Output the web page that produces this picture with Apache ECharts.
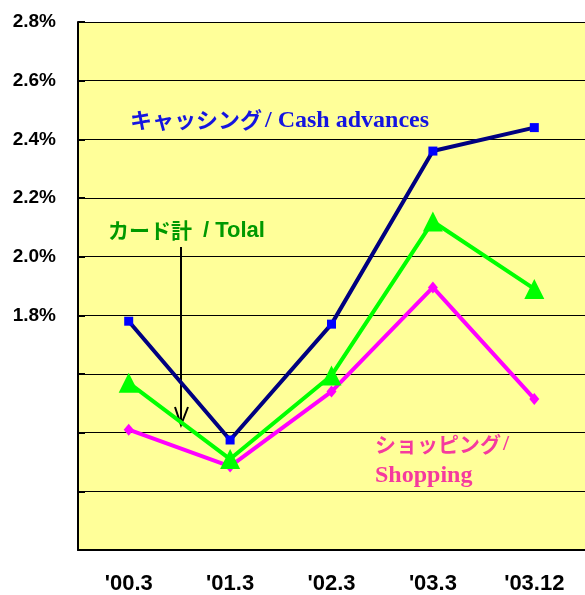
<!DOCTYPE html>
<html>
<head>
<meta charset="utf-8">
<script src="https://cdn.jsdelivr.net/npm/echarts@6/dist/echarts.min.js"></script>
<style>html,body{margin:0;padding:0;background:#fff;}#c{width:585px;height:595px;}</style>
</head>
<body>
<div id="c"></div>
<script>
const categories = ["'00.3", "'01.3", "'02.3", "'03.3", "'03.12"];
const cashAdvances = [1.78, 1.375, 1.77, 2.36, 2.44];
const total = [1.57, 1.31, 1.595, 2.12, 1.89];
const shopping = [1.41, 1.285, 1.54, 1.895, 1.515];
const labeledTicks = [1.8, 2.0, 2.2, 2.4, 2.6, 2.8];

const chart = echarts.init(document.getElementById('c'), null, {renderer: 'canvas'});
const jp = "'Noto Sans CJK JP', sans-serif";
chart.setOption({
  animation: false,
  grid: {left: 78, top: 22, right: -3, bottom: 44, show: true, backgroundColor: '#FFFF99', borderWidth: 0},
  xAxis: {
    type: 'category', data: categories, boundaryGap: true,
    axisLine: {lineStyle: {color: '#000', width: 2}},
    axisTick: {inside: true, length: 7, lineStyle: {color: '#000', width: 2}},
    axisLabel: {color: '#000', fontSize: 22, fontWeight: 'bold', fontFamily: 'Liberation Sans', margin: 23},
    splitLine: {show: false}
  },
  yAxis: {
    type: 'value', min: 1.0, max: 2.8, interval: 0.2,
    axisLine: {show: true, lineStyle: {color: '#000', width: 2}},
    axisTick: {show: true, inside: true, length: 7, lineStyle: {color: '#000', width: 2}},
    axisLabel: {
      color: '#000', fontSize: 19, fontWeight: 'bold', fontFamily: 'Liberation Sans', margin: 22,
      padding: [5, 0, 0, 0],
      formatter: v => labeledTicks.some(t => Math.abs(t - v) < 1e-6) ? v.toFixed(1) + '%' : ''
    },
    splitLine: {show: true, lineStyle: {color: '#000', width: 1}}
  },
  series: [
    {name: 'Shopping', type: 'line', data: shopping, symbol: 'diamond', symbolSize: [10, 12],
     lineStyle: {color: '#FF00FF', width: 4}, itemStyle: {color: '#FF00FF'}},
    {name: 'Total', type: 'line', data: total, symbol: 'triangle', symbolSize: [20, 20],
     lineStyle: {color: '#00FF00', width: 4}, itemStyle: {color: '#00FF00'}},
    {name: 'Cash advances', type: 'line', data: cashAdvances, symbol: 'rect', symbolSize: [9, 9],
     lineStyle: {color: '#000080', width: 4}, itemStyle: {color: '#0000FF'}}
  ],
  graphic: [
    {type: 'text', style: {x: 130, y: 120, text: 'キャッシング', font: 'bold 22px ' + jp, fill: '#1414E0', textVerticalAlign: 'middle'}},
    {type: 'text', style: {x: 265, y: 121, text: '/ Cash advances', font: "bold 24px 'Liberation Serif'", fill: '#1414E0', textVerticalAlign: 'middle'}},
    {type: 'text', style: {x: 108, y: 230, text: 'カード計', font: 'bold 21px ' + jp, fill: '#009900', textVerticalAlign: 'middle'}},
    {type: 'text', style: {x: 203, y: 231, text: '/ Tolal', font: "bold 22px 'Liberation Sans'", fill: '#009900', textVerticalAlign: 'middle'}},
    {type: 'text', style: {x: 375, y: 444, text: 'ショッピング', font: 'bold 21px ' + jp, fill: '#F53A9E', textVerticalAlign: 'middle'}},
    {type: 'text', style: {x: 503, y: 444, text: '/', font: "bold 22px 'Liberation Serif'", fill: '#F53A9E', textVerticalAlign: 'middle'}},
    {type: 'text', style: {x: 375, y: 476, text: 'Shopping', font: "bold 24px 'Liberation Serif'", fill: '#F53A9E', textVerticalAlign: 'middle'}},
    {type: 'line', shape: {x1: 181, y1: 247, x2: 181, y2: 424}, style: {stroke: '#000', lineWidth: 2}},
    {type: 'polyline', shape: {points: [[175, 407], [181, 425], [188, 407]]}, style: {stroke: '#000', lineWidth: 2, fill: null}}
  ]
});
</script>
</body>
</html>
